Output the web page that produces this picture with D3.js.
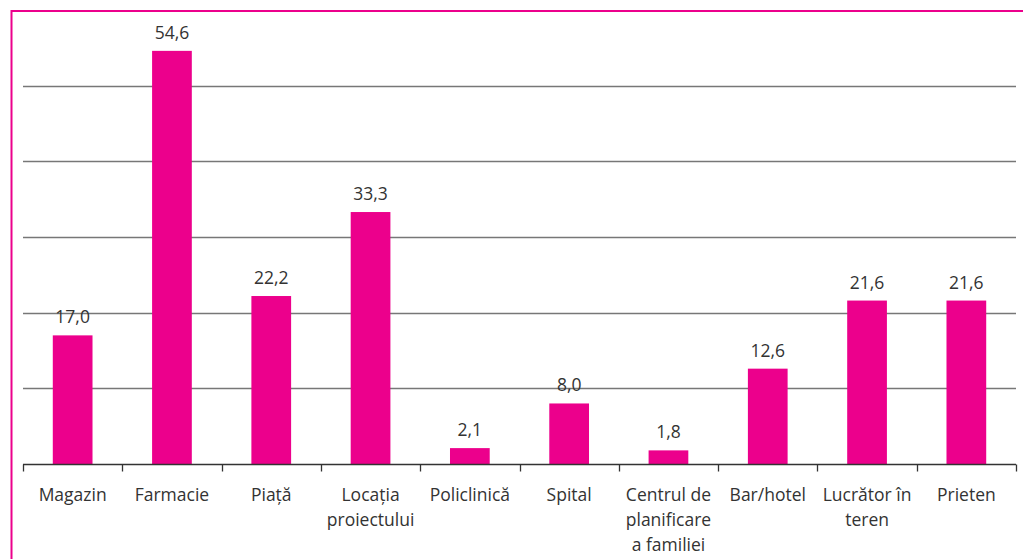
<!DOCTYPE html>
<meta charset="utf-8">
<style>
  body { margin: 0; background: #fff; }
  .label text { font-family: "Open Sans", sans-serif; font-size: 17.5px; fill: #333; }
  .value { font-family: "Open Sans", sans-serif; font-size: 17.5px; fill: #333; }
</style>
<body>
<div id="chart"></div>
<script src="https://d3js.org/d3.v7.min.js"></script>
<script>
  // categories and values
  var categories = ["Magazin", "Farmacie", "Piață", "Locația proiectului", "Policlinică",
                    "Spital", "Centrul de planificare a familiei", "Bar/hotel", "Lucrător în teren", "Prieten"];
  var values = [17.0, 54.6, 22.2, 33.3, 2.1, 8.0, 1.8, 12.6, 21.6, 21.6];
  var gridTicks = [10, 20, 30, 40, 50];

  var pink = "#EC008C";
  var W = 1023, H = 559;
  var margin = {top: 10, left: 23, right: 7, bottom: 95};

  var svg = d3.select("#chart").append("svg")
      .attr("width", W).attr("height", H);

  var x = d3.scaleBand()
      .domain(categories)
      .range([margin.left, W - margin.right])
      .padding(0);

  var y = d3.scaleLinear()
      .domain([0, 60])
      .range([H - margin.bottom, margin.top]);

  // outer pink frame (runs off right and bottom)
  svg.append("rect")
      .attr("x", 11.5).attr("y", 11)
      .attr("width", W + 20).attr("height", H + 20)
      .attr("fill", "none")
      .attr("stroke", pink)
      .attr("stroke-width", 2);

  // gridlines
  svg.append("g").selectAll("line")
      .data(gridTicks)
      .enter().append("line")
      .attr("x1", x.range()[0]).attr("x2", x.range()[1])
      .attr("y1", function(d) { return Math.round(y(d)) + 0.5; })
      .attr("y2", function(d) { return Math.round(y(d)) + 0.5; })
      .attr("stroke", "#777")
      .attr("stroke-width", 1.3);

  // bars
  var barW = x.bandwidth() * 0.4;
  svg.append("g").selectAll("rect")
      .data(values)
      .enter().append("rect")
      .attr("x", function(d, i) { return x(categories[i]) + (x.bandwidth() - barW) / 2; })
      .attr("y", function(d) { return y(d); })
      .attr("width", barW)
      .attr("height", function(d) { return y(0) - y(d); })
      .attr("fill", pink);

  // value labels
  svg.append("g").selectAll("text")
      .data(values)
      .enter().append("text")
      .attr("class", "value")
      .attr("x", function(d, i) { return x(categories[i]) + x.bandwidth() / 2; })
      .attr("y", function(d) { return y(d) - 12; })
      .attr("text-anchor", "middle")
      .text(function(d) { return d.toFixed(1).replace(".", ","); });

  // baseline + ticks at band edges
  var base = Math.round(y(0)) + 0.5;
  svg.append("line")
      .attr("x1", x.range()[0]).attr("x2", x.range()[1])
      .attr("y1", base).attr("y2", base)
      .attr("stroke", "#333").attr("stroke-width", 1.3);

  var edges = categories.map(function(c) { return x(c); }).concat([x.range()[1]]);
  svg.append("g").selectAll("line")
      .data(edges)
      .enter().append("line")
      .attr("x1", function(d) { return Math.round(d) + 0.5; })
      .attr("x2", function(d) { return Math.round(d) + 0.5; })
      .attr("y1", base).attr("y2", base + 7)
      .attr("stroke", "#333").attr("stroke-width", 1.3);

  // category labels
  var xAxis = d3.axisBottom(x).tickSize(0).tickPadding(0);
  var ax = svg.append("g")
      .attr("class", "label")
      .attr("transform", "translate(0," + y(0) + ")")
      .call(xAxis);
  ax.select(".domain").remove();
  ax.selectAll("text")
      .attr("dy", null)
      .attr("y", 37)
      .call(wrap, x.bandwidth() - 4);

  function wrap(sel, width) {
    sel.each(function() {
      var text = d3.select(this),
          words = text.text().split(/\s+/),
          line = [], lineNo = 0,
          yy = text.attr("y");
      text.text(null);
      var tspan = text.append("tspan").attr("x", 0).attr("y", yy);
      words.forEach(function(w) {
        line.push(w);
        tspan.text(line.join(" "));
        if (tspan.node().getComputedTextLength() > width && line.length > 1) {
          line.pop();
          tspan.text(line.join(" "));
          line = [w];
          lineNo++;
          tspan = text.append("tspan").attr("x", 0).attr("y", +yy + lineNo * 25).text(w);
        }
      });
    });
  }
</script>
</body>
